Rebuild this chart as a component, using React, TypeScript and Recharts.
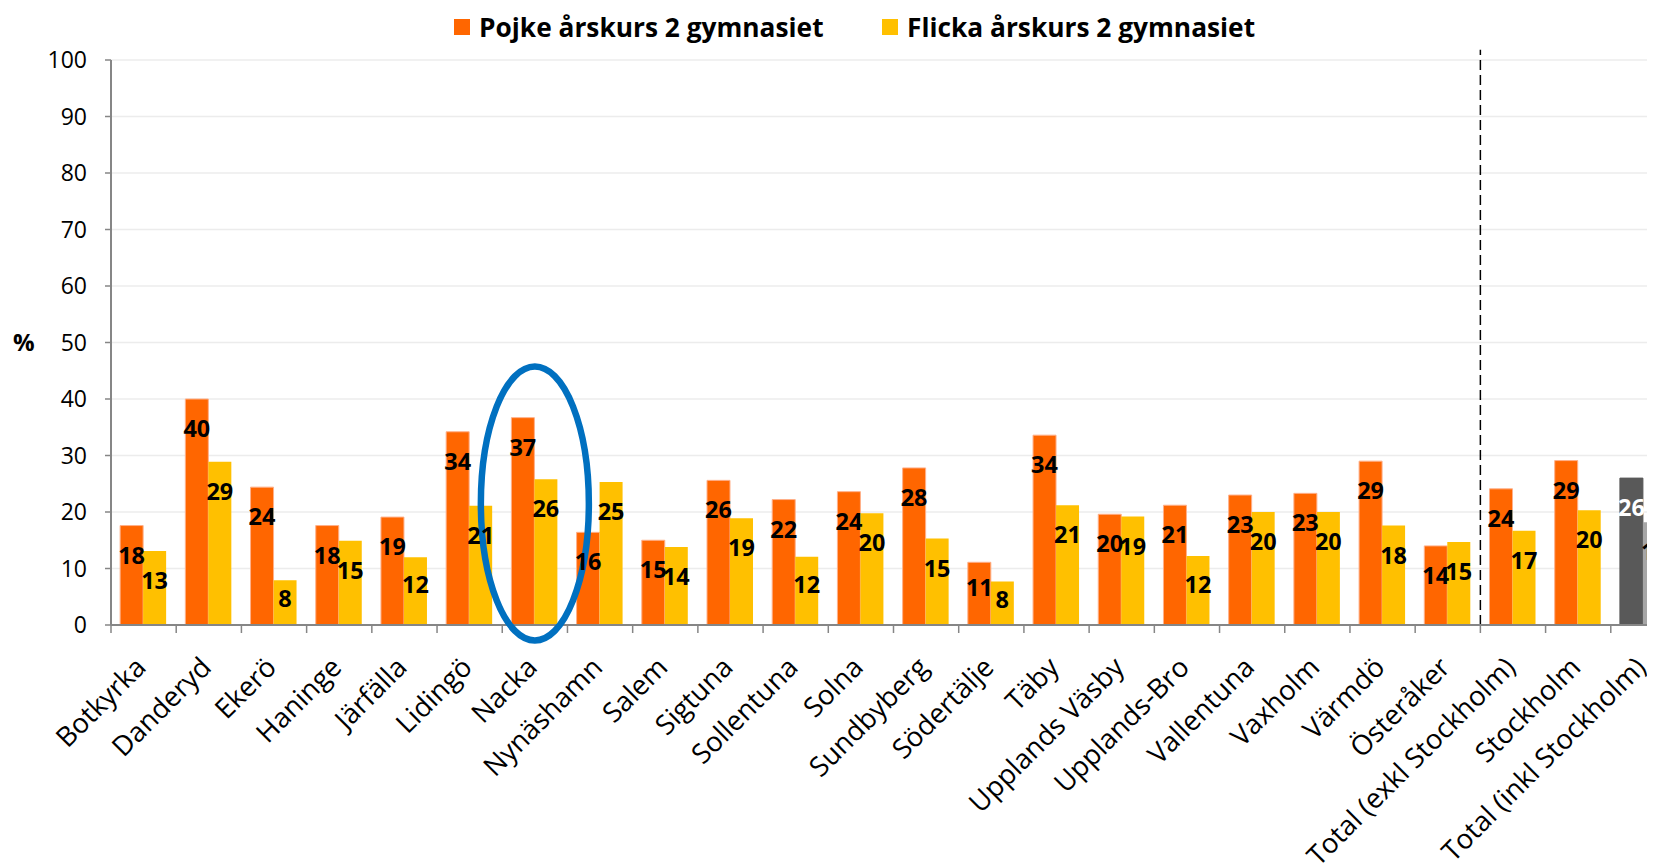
import React from "react";
import {
  BarChart,
  Bar,
  XAxis,
  YAxis,
  CartesianGrid,
  Cell,
  LabelList,
  ReferenceLine,
  ReferenceDot,
} from "recharts";

const categories = [
  "Botkyrka",
  "Danderyd",
  "Ekerö",
  "Haninge",
  "Järfälla",
  "Lidingö",
  "Nacka",
  "Nynäshamn",
  "Salem",
  "Sigtuna",
  "Sollentuna",
  "Solna",
  "Sundbyberg",
  "Södertälje",
  "Täby",
  "Upplands Väsby",
  "Upplands-Bro",
  "Vallentuna",
  "Vaxholm",
  "Värmdö",
  "Österåker",
  "Total (exkl Stockholm)",
  "Stockholm",
  "Total (inkl Stockholm)",
];

// Pojke årskurs 2 gymnasiet
const boys = [
  17.6, 40.0, 24.4, 17.6, 19.1, 34.2, 36.7, 16.4, 15.0, 25.6, 22.2, 23.6,
  27.8, 11.1, 33.6, 19.6, 21.2, 23.0, 23.3, 29.0, 14.0, 24.1, 29.1, 26.0,
];

// Flicka årskurs 2 gymnasiet
const girls = [
  13.1, 28.9, 7.9, 14.9, 12.0, 21.1, 25.8, 25.3, 13.8, 18.9, 12.1, 19.8,
  15.3, 7.7, 21.2, 19.2, 12.2, 20.0, 20.0, 17.6, 14.7, 16.7, 20.3, 18.2,
];

const yTicks = [0, 10, 20, 30, 40, 50, 60, 70, 80, 90, 100];

const data = categories.map((name, i) => ({
  name,
  pos: i + 0.5,
  boys: boys[i],
  girls: girls[i],
}));

const FONT = '"Open Sans", sans-serif';
const AXIS = "#868686";
const lastIdx = categories.length - 1;

const boyColors = categories.map((_, i) => (i === lastIdx ? "#595959" : "#FF6600"));
const boyEdges = categories.map((_, i) => (i === lastIdx ? "#595959" : "#FFB08A"));
const girlColors = categories.map((_, i) => (i === lastIdx ? "#A6A6A6" : "#FFC000"));

const renderLabel = (series: string) => (props: any) => {
  const { x, y, width, height, value, index } = props;
  const off = Math.min(29, height * 0.4);
  const white = series === "boys" && index === lastIdx;
  return (
    <text
      x={x + width / 2}
      y={y + off}
      textAnchor="middle"
      dominantBaseline="central"
      fontFamily={FONT}
      fontWeight="bold"
      fontSize={23.5}
      fill={white ? "#ffffff" : "#000000"}
    >
      {Math.round(value)}
    </text>
  );
};

// rotated category name plus a tick mark on the left edge of the band
function CategoryTick({ x, y, payload }: any) {
  const half = payload.offset || 0;
  return (
    <g>
      <line x1={x - half} x2={x - half} y1={y - 8} y2={y} stroke={AXIS} strokeWidth={1.5} />
      <text
        transform={`translate(${x + 4},${y + 36}) rotate(-45)`}
        textAnchor="end"
        fontFamily={FONT}
        fontSize={27.5}
        fill="#000"
      >
        {payload.value}
      </text>
    </g>
  );
}

function Ellipse({ cx, cy }: any) {
  return <ellipse cx={cx} cy={cy} rx={54} ry={137} fill="none" stroke="#0070C0" strokeWidth={6.5} />;
}

function Legend() {
  const items = [
    { name: "Pojke årskurs 2 gymnasiet", color: "#FF6600", left: 446 },
    { name: "Flicka årskurs 2 gymnasiet", color: "#FFC000", left: 874 },
  ];
  return (
    <>
      {items.map((item) => (
        <div
          key={item.name}
          style={{
            position: "absolute",
            top: 1,
            left: item.left,
            display: "flex",
            alignItems: "center",
            gap: 9,
            fontFamily: FONT,
            fontWeight: "bold",
            fontSize: 26.3,
            color: "#000",
            whiteSpace: "nowrap",
          }}
        >
          <span style={{ width: 16, height: 16, backgroundColor: item.color }} />
          <span>{item.name}</span>
        </div>
      ))}
    </>
  );
}

export default function App() {
  return (
    <div style={{ position: "relative", width: 1647, height: 856, overflow: "hidden", background: "#fff" }}>
      <BarChart
        width={1668}
        height={856}
        data={data}
        margin={{ top: 52, right: 0, bottom: 0, left: 0 }}
        barCategoryGap="14%"
        barGap={0}
      >
        <CartesianGrid vertical={false} stroke="#ECECEC" strokeWidth={1.5} />
        <XAxis
          xAxisId="n"
          type="number"
          dataKey="pos"
          domain={[0, categories.length]}
          allowDataOverflow
          hide
        />
        <XAxis
          dataKey="name"
          interval={0}
          height={239}
          tickLine={false}
          tickSize={8}
          tickMargin={0}
          axisLine={{ stroke: AXIS, strokeWidth: 2 }}
          tick={<CategoryTick />}
        />
        <YAxis
          width={103}
          domain={[0, 100]}
          ticks={yTicks}
          interval={0}
          tickSize={6}
          tickMargin={18}
          axisLine={{ stroke: AXIS, strokeWidth: 2 }}
          tickLine={{ stroke: AXIS, strokeWidth: 1.5 }}
          tick={{ fill: "#000", fontSize: 23, fontFamily: FONT }}
          label={{
            value: "%",
            position: "insideLeft",
            offset: 5,
            style: { fill: "#000", fontSize: 24, fontWeight: "bold", fontFamily: FONT },
          }}
        />
        <Bar dataKey="boys" isAnimationActive={false}>
          {data.map((d, i) => (
            <Cell key={d.name} fill={boyColors[i]} stroke={boyEdges[i]} strokeWidth={1} />
          ))}
          <LabelList dataKey="boys" content={renderLabel("boys")} />
        </Bar>
        <Bar dataKey="girls" isAnimationActive={false}>
          {data.map((d, i) => (
            <Cell key={d.name} fill={girlColors[i]} />
          ))}
          <LabelList dataKey="girls" content={renderLabel("girls")} />
        </Bar>
        <ReferenceLine
          xAxisId="n"
          segment={[
            { x: 21, y: 0 },
            { x: 21, y: 101.8 },
          ]}
          stroke="#000"
          strokeWidth={1.5}
          strokeDasharray="10 5"
          ifOverflow="visible"
        />
        <ReferenceDot x="Nacka" y={21.5} ifOverflow="visible" shape={<Ellipse />} />
      </BarChart>
      <Legend />
    </div>
  );
}
